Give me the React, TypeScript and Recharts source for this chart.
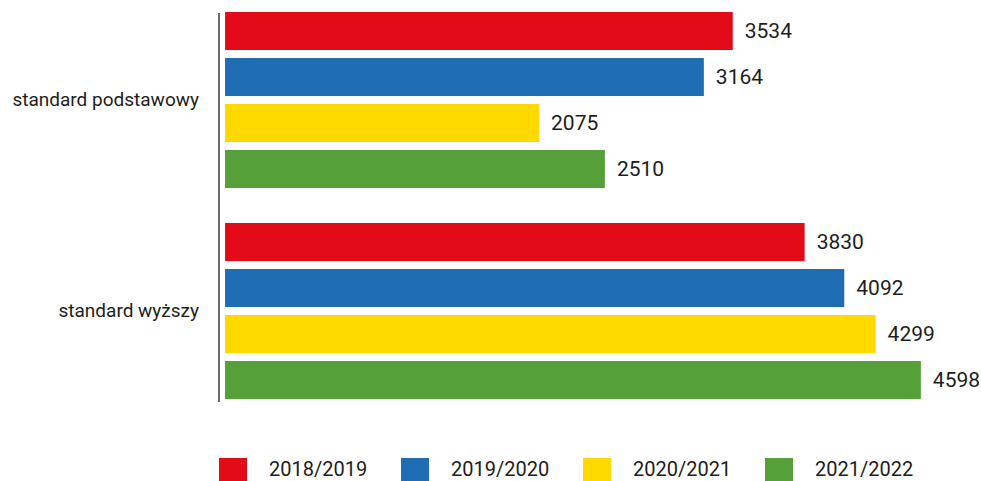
import { BarChart, Bar, XAxis, YAxis, Legend, LabelList } from "recharts";

const categories = ["standard podstawowy", "standard wyższy"];
const seasons = ["2018/2019", "2019/2020", "2020/2021", "2021/2022"];
const colors = ["#e30b17", "#1f6eb3", "#ffd900", "#55a038"];

// printed numbers
const v2018 = [3534, 3830];
const v2019 = [3164, 4092];
const v2020 = [2075, 4299];
const v2021 = [2510, 4598];

// bar lengths as drawn (the first red bar is drawn shorter than its label)
const b2018 = [3355, 3830];
const b2019 = [3164, 4092];
const b2020 = [2075, 4299];
const b2021 = [2510, 4598];

const bars = [b2018, b2019, b2020, b2021];
const labels = [v2018, v2019, v2020, v2021];

const data = categories.map((name, i) => {
  const row: Record<string, string | number> = { name };
  bars.forEach((b, s) => {
    row[`b${s}`] = b[i];
    row[`l${s}`] = labels[s][i];
  });
  return row;
});

const font = "Roboto, 'Noto Sans', sans-serif";

function LegendBox() {
  return (
    <div style={{ display: "flex", alignItems: "flex-start", whiteSpace: "nowrap", fontFamily: font, fontSize: 20, color: "#1d1d1b", height: 23 }}>
      {seasons.map((s, i) => (
        <div key={s} style={{ display: "flex", alignItems: "flex-start", width: 182, flexShrink: 0 }}>
          <span style={{ display: "block", width: 28, height: 23, background: colors[i], marginRight: 22, flexShrink: 0 }} />
          <span style={{ display: "block", lineHeight: "18px", marginTop: 2 }}>{s}</span>
        </div>
      ))}
    </div>
  );
}

export default function App() {
  return (
    <div style={{ position: "absolute", left: 0, top: 0, background: "#fff" }}>
      <BarChart
        width={981}
        height={481}
        data={data}
        layout="vertical"
        margin={{ top: 13, right: 22, bottom: 56, left: 0 }}
        barGap={8}
        barSize={38}
      >
        <XAxis type="number" hide domain={[-40, 4850]} allowDataOverflow />
        <YAxis
          type="category"
          dataKey="name"
          width={219}
          padding={{ top: -19, bottom: -14 }}
          axisLine={{ stroke: "#3a3a3a", strokeWidth: 1.5 }}
          tickLine={false}
          tickSize={0}
          tickMargin={20}
          tick={{ fill: "#1d1d1b", fontSize: 19, fontFamily: font }}
        />
        <Legend
          content={() => <LegendBox />}
          wrapperStyle={{ position: "absolute", left: 219, top: 458, width: 760 }}
        />
        {seasons.map((s, i) => (
          <Bar key={s} dataKey={`b${i}`} name={s} fill={colors[i]} isAnimationActive={false}>
            <LabelList
              dataKey={`l${i}`}
              position="right"
              offset={12}
              fill="#1d1d1b"
              fontSize={21}
              fontFamily={font}
            />
          </Bar>
        ))}
      </BarChart>
    </div>
  );
}
